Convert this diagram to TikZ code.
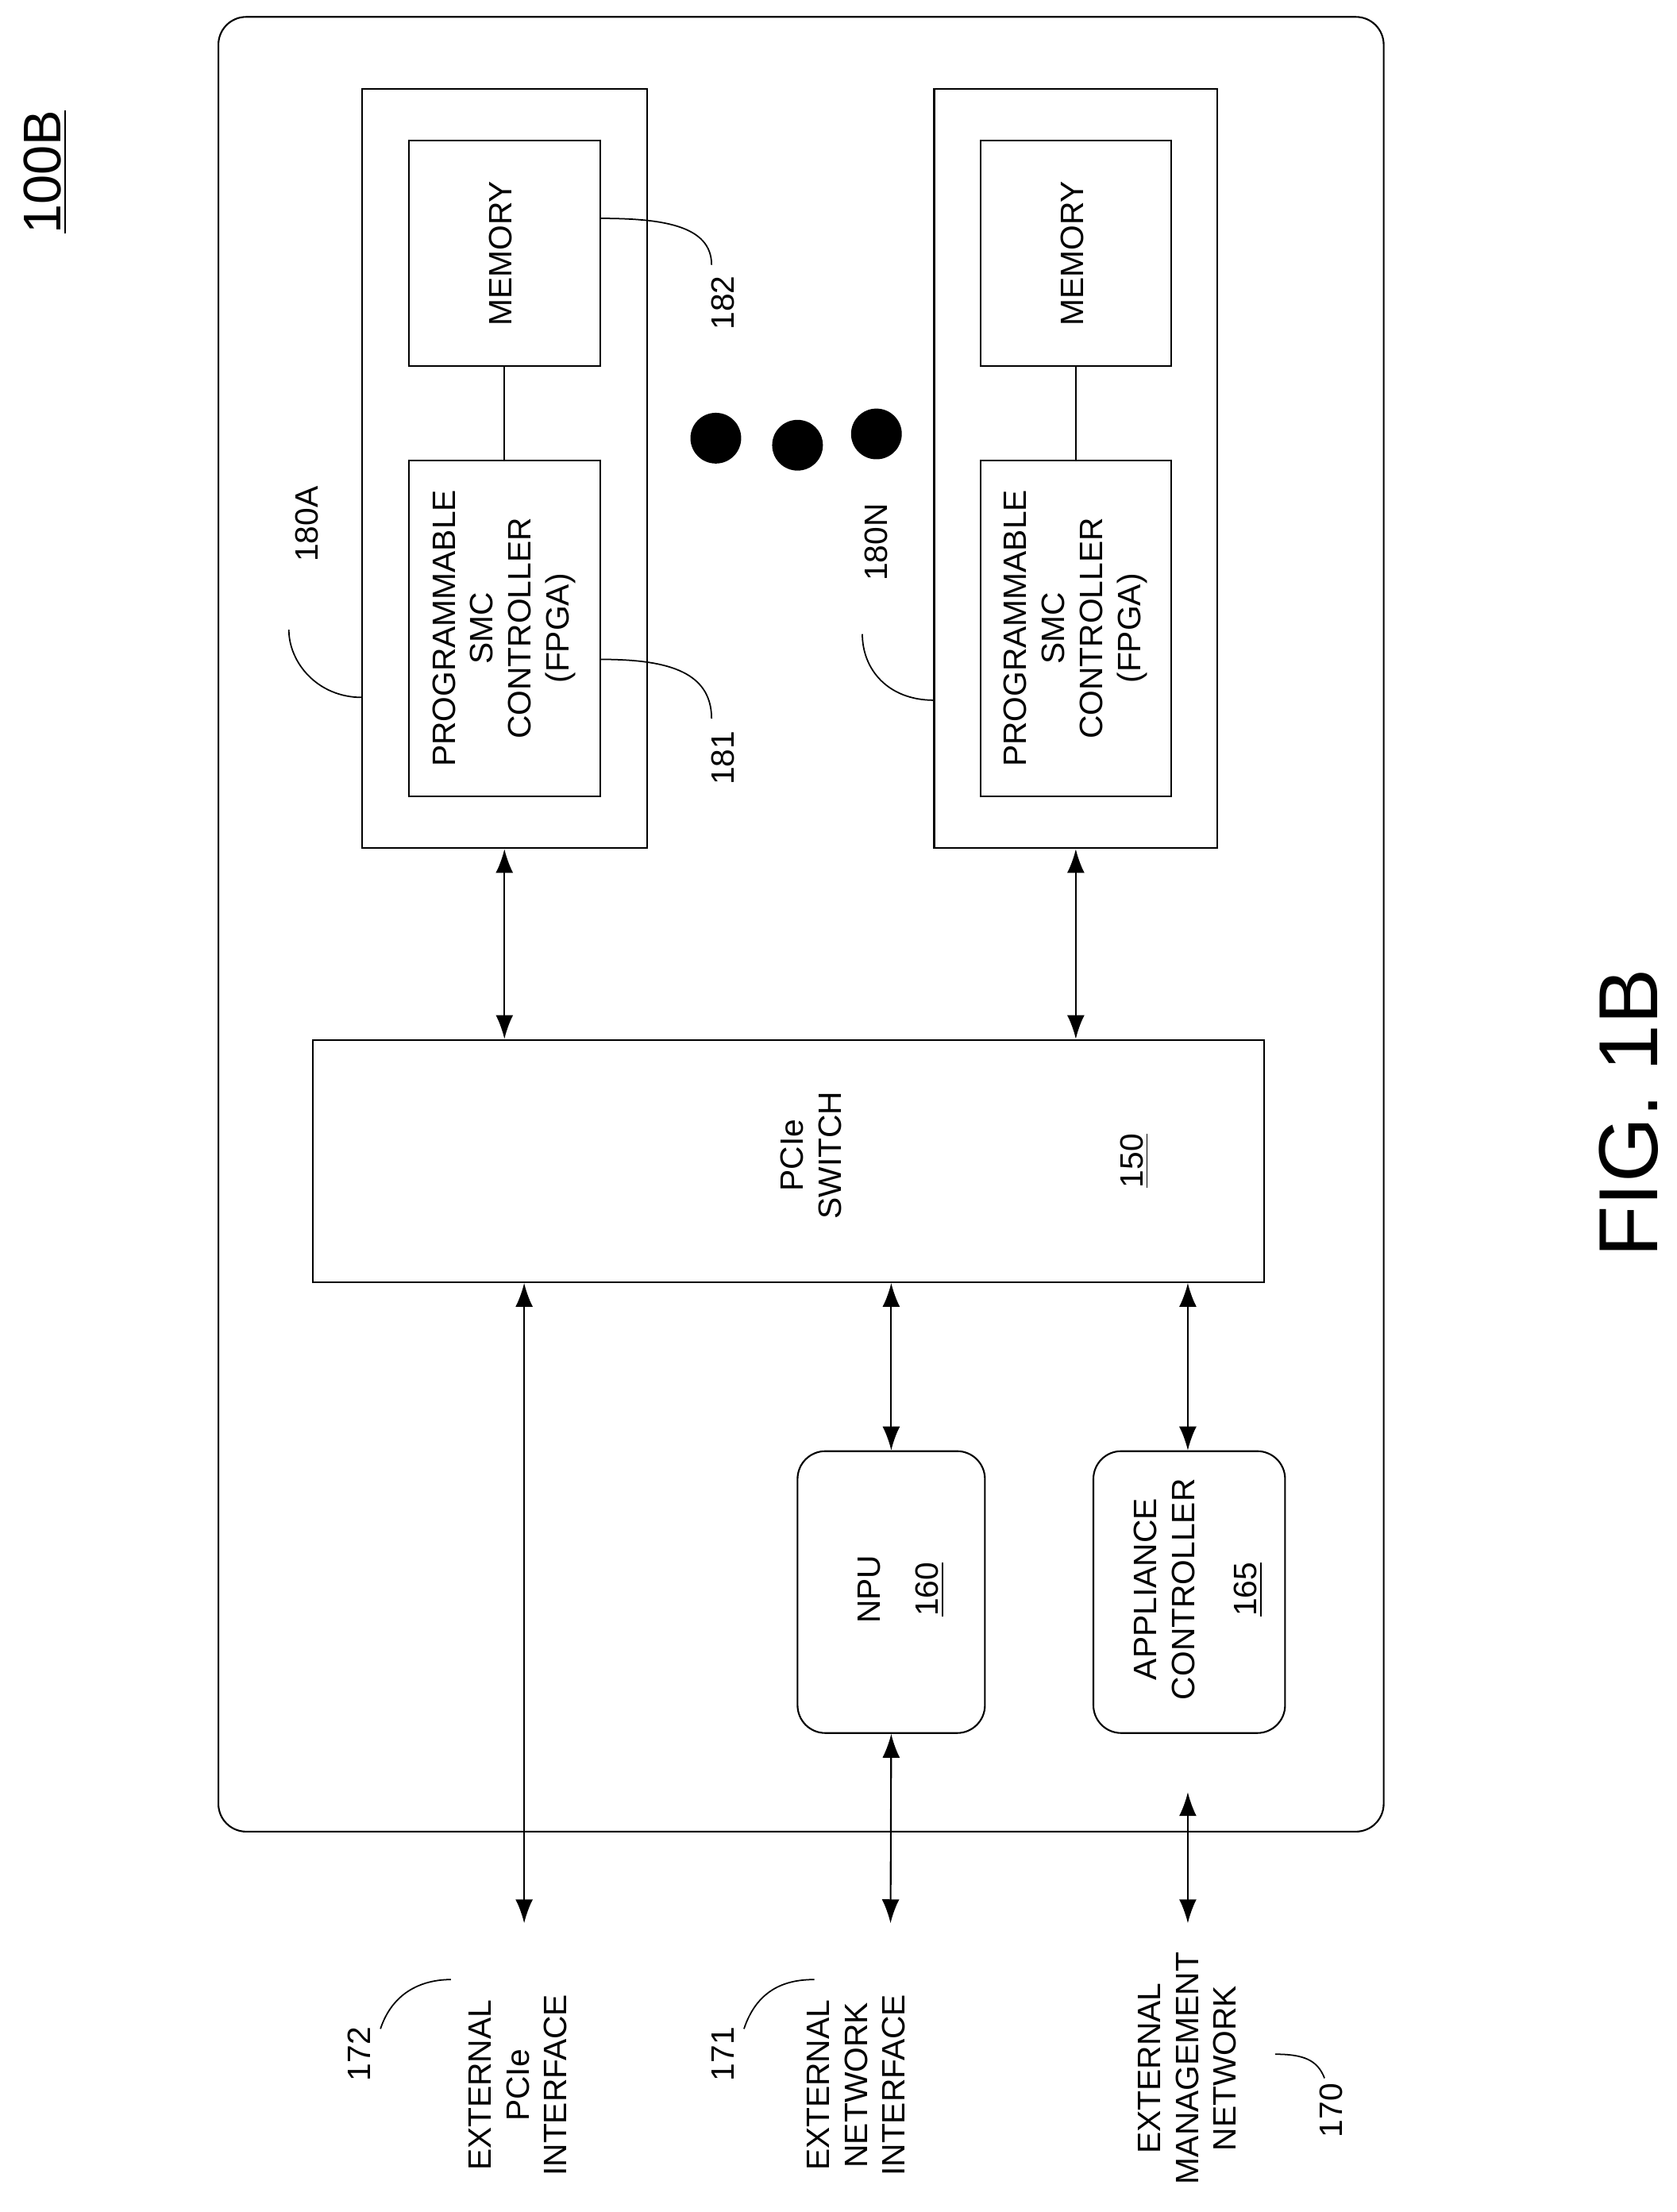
\documentclass[tikz,border=0pt]{standalone}
\usepackage{fontspec}
\setmainfont{Liberation Sans}
\usetikzlibrary{arrows.meta}
\tikzset{
  box/.style={draw,line width=0.6pt,inner sep=0pt},
  rbox/.style={box,rounded corners=0.35cm},
  lbl/.style={font=\fontsize{11.6}{13.6}\selectfont,inner sep=0pt},
  link/.style={line width=0.6pt,{Latex[length=0.3cm,width=0.22cm]}-{Latex[length=0.3cm,width=0.22cm]}},
  lead/.style={line width=0.5pt}
}
\newcommand{\rtxt}[1]{\rotatebox{90}{\begin{tabular}{@{}c@{}}#1\end{tabular}}}
\begin{document}
\begin{tikzpicture}[x=0.01775cm,y=-0.01775cm]
        \useasboundingbox (0,0) rectangle (1190,1570);
        \draw[line width=0.6pt,rounded corners=0.35cm] (155,12) rectangle (982,1300);
        \node[font=\fontsize{19}{22}\selectfont,inner sep=0pt] (fig100) at (32,122) {\rotatebox{90}{\underline{100B}}};
        % SMC modules
        \node[box,minimum width=3.586cm,minimum height=9.567cm] (smcA) at (358,332.5) {};
        \node[box,minimum width=2.414cm,minimum height=2.84cm,lbl] (memA) at (358,180) {\rtxt{MEMORY}};
        \node[box,minimum width=2.414cm,minimum height=4.225cm,lbl] (fpgaA) at (358,446) {\rtxt{PROGRAMMABLE\\SMC\\CONTROLLER\\(FPGA)}};
        \node[box,minimum width=3.568cm,minimum height=9.567cm] (smcN) at (763.5,332.5) {};
        \node[box,minimum width=2.396cm,minimum height=2.84cm,lbl] (memN) at (763.5,180) {\rtxt{MEMORY}};
        \node[box,minimum width=2.396cm,minimum height=4.225cm,lbl] (fpgaN) at (763.5,446) {\rtxt{PROGRAMMABLE\\SMC\\CONTROLLER\\(FPGA)}};
        \draw[line width=0.6pt] (memA) -- (fpgaA);
        \draw[line width=0.6pt] (memN) -- (fpgaN);
        \fill (508,311) circle (18) (566,316) circle (18) (622,308) circle (18);
        % switch and processors
        \node[box,minimum width=11.98cm,minimum height=3.053cm] (sw) at (559.5,824) {};
        \node[lbl] (swtxt) at (578,820) {\rtxt{PCIe\\SWITCH}};
        \node[lbl] (swnum) at (805,824) {\rotatebox{90}{\underline{150}}};
        \node[rbox,minimum width=2.36cm,minimum height=3.55cm] (npu) at (632.5,1130) {};
        \node[lbl] (npulbl) at (617,1128) {\rotatebox{90}{NPU}};
        \node[lbl] (npunum) at (660,1128) {\rotatebox{90}{\underline{160}}};
        \node[rbox,minimum width=2.414cm,minimum height=3.55cm] (apc) at (844,1130) {};
        \node[lbl] (apclbl) at (829,1128) {\rtxt{APPLIANCE\\CONTROLLER}};
        \node[lbl] (apcnum) at (886,1128) {\rotatebox{90}{\underline{165}}};
        % links
        \draw[link] (smcA.south) -- (smcA.south |- sw.north);
        \draw[link] (smcN.south) -- (smcN.south |- sw.north);
        \coordinate (pcie) at (372,1365);
        \coordinate (net) at (632,1365);
        \coordinate (mgmt) at (843,1365);
        \coordinate (mgmtin) at (843,1272);
        \draw[link] (pcie |- sw.south) -- (pcie);
        \draw[link] (npu.north |- sw.south) -- (npu.north);
        \draw[link] (npu.south) -- (net);
        \draw[link] (mgmt |- sw.south) -- (mgmt |- apc.north);
        \draw[link] (mgmtin) -- (mgmt);
        % external labels
        \node[lbl] (pcielbl) at (370,1480) {\rtxt{EXTERNAL\\PCIe\\INTERFACE}};
        \node[lbl] (netlbl) at (610,1480) {\rtxt{EXTERNAL\\NETWORK\\INTERFACE}};
        \node[lbl] (mgmtlbl) at (845,1468) {\rtxt{EXTERNAL\\MANAGEMENT\\NETWORK}};
        \node[lbl] (n172) at (255,1458) {\rotatebox{90}{172}};
        \node[lbl] (n171) at (513,1458) {\rotatebox{90}{171}};
        \node[lbl] (n170) at (945,1498) {\rotatebox{90}{170}};
        \draw[lead] (270,1440) .. controls (280,1410) and (305,1405) .. (320,1405);
        \draw[lead] (528,1440) .. controls (538,1410) and (560,1405) .. (578,1405);
        \draw[lead] (905,1458) .. controls (925,1458) and (935,1462) .. (940,1475);
        % reference numerals
        \node[lbl] (n180A) at (218,372) {\rotatebox{90}{180A}};
        \node[lbl] (n180N) at (622,385) {\rotatebox{90}{180N}};
        \node[lbl] (n181) at (513,538) {\rotatebox{90}{181}};
        \node[lbl] (n182) at (513,215) {\rotatebox{90}{182}};
        \draw[lead] (257,495) .. controls (225,495) and (205,470) .. (205,447);
        \draw[lead] (663,497) .. controls (630,497) and (612,475) .. (612,450);
        \draw[lead] (426,468) .. controls (470,468) and (505,475) .. (505,510);
        \draw[lead] (426,155) .. controls (470,155) and (505,160) .. (505,188);
        \node[font=\fontsize{30}{34}\selectfont,inner sep=0pt] (fig) at (1156,790) {\rotatebox{90}{FIG. 1B}};
\end{tikzpicture}
\end{document}
